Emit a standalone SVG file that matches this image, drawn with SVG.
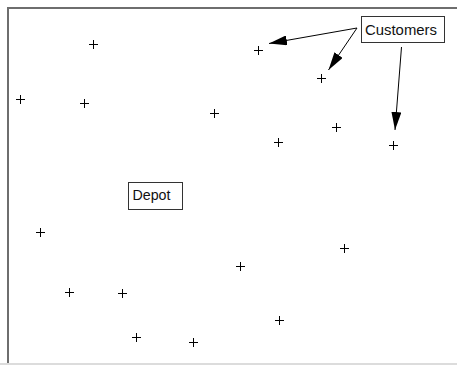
<svg xmlns="http://www.w3.org/2000/svg" width="457" height="365" viewBox="0 0 457 365">
  <style>
    .pt { stroke: #000; stroke-width: 1; fill: none; }
    .box { fill: #fff; stroke: #333; stroke-width: 1; }
    .lbl { font-family: "Liberation Sans", Arial, sans-serif; font-size: 14px; fill: #111; }
    .conn { stroke: #000; stroke-width: 1; fill: none; marker-end: url(#head); }
  </style>
  <defs>
    <marker id="head" markerUnits="userSpaceOnUse" markerWidth="19" markerHeight="10" refX="18" refY="5" orient="auto">
      <path d="M0,0 L18,5 L0,10 z" fill="#000"/>
    </marker>
    <path id="cross" d="M-4.5,0 H4.5 M0,-4.5 V4.5"/>
  </defs>
  <rect width="457" height="365" fill="#fff"/>

  <!-- frame -->
  <g id="frame">
    <line x1="7" y1="8" x2="457" y2="8" stroke="#6e6e6e" stroke-width="2"/>
    <line x1="8" y1="7" x2="8" y2="365" stroke="#6e6e6e" stroke-width="2"/>
    <line x1="0" y1="364" x2="457" y2="364" stroke="#dcdcdc" stroke-width="2"/>
  </g>

  <!-- customer locations -->
  <g id="points" class="pt">
    <use href="#cross" x="93.5" y="44.5"/>
    <use href="#cross" x="258.5" y="50.5"/>
    <use href="#cross" x="321.5" y="78.5"/>
    <use href="#cross" x="20.5" y="99.5"/>
    <use href="#cross" x="84.5" y="103.5"/>
    <use href="#cross" x="214.5" y="113.5"/>
    <use href="#cross" x="336.5" y="127.5"/>
    <use href="#cross" x="278.5" y="142.5"/>
    <use href="#cross" x="393.5" y="145.5"/>
    <use href="#cross" x="40.5" y="232.5"/>
    <use href="#cross" x="344.5" y="248.5"/>
    <use href="#cross" x="240.5" y="266.5"/>
    <use href="#cross" x="69.5" y="292.5"/>
    <use href="#cross" x="122.5" y="293.5"/>
    <use href="#cross" x="279.5" y="320.5"/>
    <use href="#cross" x="136.5" y="337.5"/>
    <use href="#cross" x="193.5" y="342.5"/>
  </g>

  <!-- connectors -->
  <g id="connectors">
    <line class="conn" x1="357" y1="28" x2="269" y2="43.5"/>
    <line class="conn" x1="357" y1="28" x2="328.5" y2="70"/>
    <line class="conn" x1="401.5" y1="47" x2="395" y2="130"/>
  </g>

  <!-- labels -->
  <g id="customers">
    <rect class="box" x="361.5" y="16.5" width="83" height="26"/>
    <text class="lbl" x="365" y="34.5" textLength="72" lengthAdjust="spacingAndGlyphs">Customers</text>
  </g>
  <g id="depot">
    <rect class="box" x="128.5" y="182.5" width="54" height="27"/>
    <text class="lbl" x="132.5" y="199.5" textLength="38" lengthAdjust="spacingAndGlyphs">Depot</text>
  </g>
</svg>
